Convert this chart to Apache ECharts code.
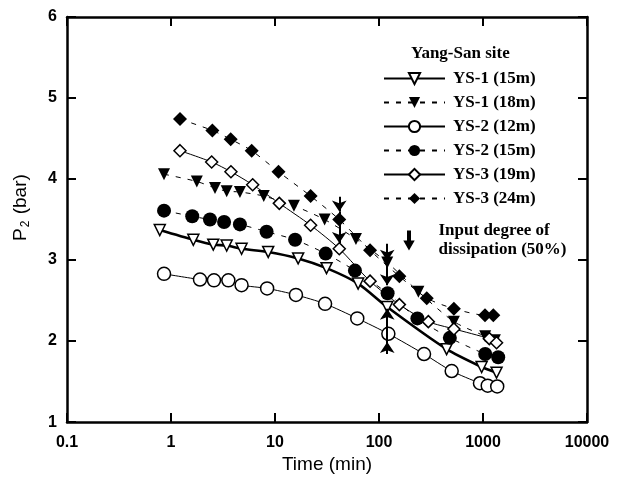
<!DOCTYPE html>
<html><head><meta charset="utf-8">
<script src="https://cdn.jsdelivr.net/npm/echarts@6/dist/echarts.min.js"></script>
<style>html,body{margin:0;padding:0;background:#fff}#c{width:628px;height:479px}</style>
</head><body><div id="c"></div>
<script>
// ---- data ----
const seriesNames = ['YS-1 (15m)', 'YS-1 (18m)', 'YS-2 (12m)', 'YS-2 (15m)', 'YS-3 (19m)', 'YS-3 (24m)'];
const ys1_15_t = [0.78, 1.64, 2.55, 3.43, 4.77, 8.6, 16.7, 31.3, 63, 120, 447, 970, 1350];
const ys1_15_p = [3.37, 3.25, 3.19, 3.18, 3.14, 3.10, 3.02, 2.90, 2.71, 2.42, 1.90, 1.68, 1.61];
const ys1_18_t = [0.857, 1.77, 2.65, 3.43, 4.6, 7.8, 15.2, 30, 60, 120, 239, 525, 1050, 1300];
const ys1_18_p = [4.06, 3.97, 3.89, 3.85, 3.84, 3.79, 3.67, 3.50, 3.26, 2.97, 2.61, 2.24, 2.06, 2.01];
const ys2_12_t = [0.857, 1.9, 2.59, 3.56, 4.77, 8.4, 15.9, 30.3, 61.8, 123, 271, 500, 935, 1110, 1370];
const ys2_12_p = [2.83, 2.76, 2.75, 2.75, 2.69, 2.65, 2.57, 2.46, 2.28, 2.09, 1.84, 1.63, 1.48, 1.45, 1.44];
const ys2_15_t = [0.857, 1.6, 2.37, 3.24, 4.6, 8.3, 15.6, 30.7, 58.7, 121, 234, 480, 1050, 1400];
const ys2_15_p = [3.61, 3.54, 3.50, 3.47, 3.44, 3.35, 3.25, 3.08, 2.87, 2.59, 2.28, 2.04, 1.84, 1.80];
const ys3_19_t = [1.22, 2.46, 3.77, 6.1, 11, 22, 41.5, 82, 157, 298, 525, 1150, 1350];
const ys3_19_p = [4.35, 4.21, 4.09, 3.93, 3.70, 3.43, 3.14, 2.74, 2.45, 2.24, 2.15, 2.03, 1.98];
const ys3_24_t = [1.22, 2.5, 3.75, 5.97, 10.8, 22, 41.5, 82, 157, 288, 525, 1045, 1256];
const ys3_24_p = [4.74, 4.60, 4.49, 4.35, 4.09, 3.79, 3.50, 3.12, 2.80, 2.53, 2.40, 2.32, 2.32];
// arrows marking input degree of dissipation (50%)
const arrowName = 'Input degree of\ndissipation (50%)';
const arrowT    = [41.5, 41.5, 120, 120, 120, 120];
const arrowFrom = [3.78, 3.60, 3.20, 2.99, 1.84, 1.99];
const arrowTo   = [3.60, 3.21, 2.99, 2.69, 1.99, 2.40];
const xTicks = [0.1, 1, 10, 100, 1000, 10000];
const yMin = 1, yMax = 6;

const zip = (t, p) => t.map((v, i) => [v, p[i]]);
const BLK = '#000';
function mk(name, t, p, symbol, size, filled, width, dashed, rotate) {
  return {
    name, type: 'line', data: zip(t, p), xAxisIndex: 0, yAxisIndex: 0,
    symbol, symbolSize: size, symbolRotate: rotate || 0, showAllSymbol: true,
    smooth: 0.25,
    lineStyle: { color: BLK, width, type: dashed ? [5, 7] : 'solid' },
    itemStyle: { color: filled ? BLK : '#fff', borderColor: BLK, borderWidth: filled ? 0 : 1.5 },
    emphasis: { disabled: true }
  };
}
const series = [
  mk(seriesNames[0], ys1_15_t, ys1_15_p, 'triangle', 11, false, 2.6, false, 180),
  mk(seriesNames[1], ys1_18_t, ys1_18_p, 'triangle', 12, true, 1, true, 180),
  mk(seriesNames[2], ys2_12_t, ys2_12_p, 'circle', 13, false, 1, false),
  mk(seriesNames[3], ys2_15_t, ys2_15_p, 'circle', 14, true, 1, true),
  mk(seriesNames[4], ys3_19_t, ys3_19_p, 'diamond', 12, false, 1, false),
  mk(seriesNames[5], ys3_24_t, ys3_24_p, 'diamond', 14, true, 1, true),
  {
    name: arrowName, type: 'lines', coordinateSystem: 'cartesian2d', xAxisIndex: 0, yAxisIndex: 0,
    symbol: ['none', 'arrow'], symbolSize: [9, 11],
    lineStyle: { color: BLK, width: 2, opacity: 1 },
    itemStyle: { color: BLK },
    data: arrowT.map((t, i) => ({ coords: [[t, arrowFrom[i]], [t, arrowTo[i]]] })),
    z: 5
  }
];
const fmt = v => String(parseFloat(Number(v).toPrecision(6)));
const tickLab = { color: BLK, fontFamily: 'Liberation Sans', fontWeight: 'bold', fontSize: 16 };
const axLine = { show: true, lineStyle: { color: BLK, width: 2.5 } };
const axTick = { show: true, inside: true, length: 9, lineStyle: { color: BLK, width: 2 } };

const chart = echarts.init(document.getElementById('c'), null, { renderer: 'canvas' });
chart.setOption({
  animation: false,
  backgroundColor: '#fff',
  grid: { left: 67, right: 41, top: 17, bottom: 50 },
  title: {
    text: 'Yang-San site', left: 406, top: 40,
    textStyle: { fontFamily: 'Liberation Serif', fontWeight: 'bold', fontSize: 17, color: BLK }
  },
  legend: [{
    data: seriesNames, orient: 'vertical', left: 378, top: 65,
    itemWidth: 61, itemHeight: 14, itemGap: 7, selectedMode: false,
    textStyle: { fontFamily: 'Liberation Serif', fontWeight: 'bold', fontSize: 17, lineHeight: 17, color: BLK, padding: [0, 0, 0, 3] }
  }, {
    data: [{ name: arrowName, icon: 'path://M3,0L5,0L5,10L8,10L4,17L0,10L3,10Z' }],
    left: 399, top: 216, itemWidth: 9, itemHeight: 17, selectedMode: false,
    textStyle: { fontFamily: 'Liberation Serif', fontWeight: 'bold', fontSize: 17, lineHeight: 19, color: BLK, padding: [0, 0, 0, 20] }
  }],
  xAxis: [{
    type: 'log', logBase: 10, min: xTicks[0], max: xTicks[xTicks.length - 1], position: 'bottom',
    name: 'Time (min)', nameLocation: 'middle', nameGap: 27,
    nameTextStyle: { fontFamily: 'Liberation Sans', fontSize: 19, color: BLK },
    axisLine: axLine, axisTick: axTick, minorTick: { show: false }, splitLine: { show: false },
    axisLabel: Object.assign({ margin: 12, formatter: fmt }, tickLab)
  }, {
    type: 'log', logBase: 10, min: xTicks[0], max: xTicks[xTicks.length - 1], position: 'top',
    axisLine: axLine, axisTick: axTick, splitLine: { show: false }, axisLabel: { show: false }
  }],
  yAxis: [{
    type: 'value', min: yMin, max: yMax, interval: 1, position: 'left',
    name: '{s|}{a|P}{b|2}{a| (bar)}', nameLocation: 'middle', nameGap: 35, nameRotate: 90,
    nameTextStyle: {
      color: BLK,
      rich: {
        s: { width: 24, fontSize: 19, lineHeight: 22 },
        a: { fontFamily: 'Liberation Sans', fontSize: 19, color: BLK, lineHeight: 22, verticalAlign: 'middle' },
        b: { fontFamily: 'Liberation Sans', fontSize: 12, color: BLK, lineHeight: 22, verticalAlign: 'bottom', padding: [8, 1, 0, 1] }
      }
    },
    axisLine: axLine, axisTick: axTick, splitLine: { show: false },
    axisLabel: Object.assign({ margin: 10 }, tickLab)
  }, {
    type: 'value', min: yMin, max: yMax, interval: 1, position: 'right',
    axisLine: axLine, axisTick: axTick, splitLine: { show: false }, axisLabel: { show: false }
  }],
  series
});
</script></body></html>
